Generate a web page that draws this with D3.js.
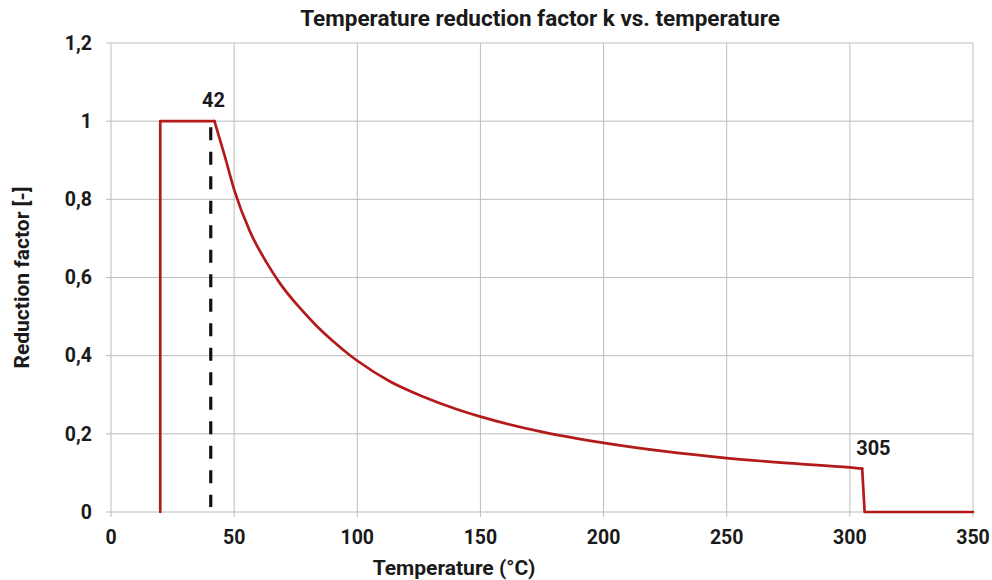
<!DOCTYPE html>
<html>
<head>
<meta charset="utf-8">
<script src="https://cdn.jsdelivr.net/npm/d3@7"></script>
<style>
  body { margin: 0; background: #fff; }
  text { font-family: Roboto, "Noto Sans", sans-serif; font-weight: bold; fill: #1a1a1a; }
  .grid line { stroke: #bdbdbd; stroke-width: 1; }
</style>
</head>
<body>
<script>
// reduction factor curve
var temps   = [20, 20, 42, 46, 50, 56.4, 63.2, 68.6, 76.7, 83.5, 90.3, 97, 100, 113.3, 126.8, 140.4, 150, 175, 200, 225, 250, 275, 300, 305, 306, 350];
var factors = [0, 1, 1, 0.915, 0.825, 0.718, 0.638, 0.585, 0.522, 0.476, 0.436, 0.401, 0.387, 0.334, 0.295, 0.263, 0.244, 0.205, 0.177, 0.155, 0.138, 0.125, 0.114, 0.111, 0, 0];

var xTicks = [0, 50, 100, 150, 200, 250, 300, 350];
var yTicks = [0, 0.2, 0.4, 0.6, 0.8, 1, 1.2];

var dashX = 40.5;          // dashed marker
var labels = [{t: 42, k: 1, text: "42"}, {t: 305, k: 0.111, text: "305"}];

var W = 992, H = 580;
var margin = {top: 43, right: 19, bottom: 68, left: 111},
    width = W - margin.left - margin.right,
    height = H - margin.top - margin.bottom;

var svg = d3.select("body").append("svg")
    .attr("width", W).attr("height", H)
  .append("g")
    .attr("transform", "translate(" + margin.left + "," + margin.top + ")");

var x = d3.scaleLinear().domain([0, 350]).range([0, width]);
var y = d3.scaleLinear().domain([0, 1.2]).range([height, 0]);

var fmt = function(d){ return String(d).replace(".", ","); };

// grid + axes
svg.append("g").attr("class", "grid")
  .selectAll("line").data(xTicks).enter().append("line")
  .attr("x1", function(d){ return x(d); }).attr("x2", function(d){ return x(d); })
  .attr("y1", 0).attr("y2", height + 5);

svg.append("g").attr("class", "grid")
  .selectAll("line").data(yTicks).enter().append("line")
  .attr("x1", -5).attr("x2", width)
  .attr("y1", function(d){ return y(d); }).attr("y2", function(d){ return y(d); });

svg.append("g").selectAll("text").data(xTicks).enter().append("text")
  .attr("x", function(d){ return x(d); })
  .attr("y", height + 32)
  .attr("text-anchor", "middle")
  .style("font-size", "19.5px")
  .text(function(d){ return d; });

svg.append("g").selectAll("text").data(yTicks).enter().append("text")
  .attr("x", -19)
  .attr("y", function(d){ return y(d); })
  .attr("dy", "0.35em")
  .attr("text-anchor", "end")
  .style("font-size", "19.5px")
  .text(fmt);

// dashed line at the plateau end
svg.append("line")
  .attr("x1", x(dashX)).attr("x2", x(dashX))
  .attr("y1", y(1) + 6).attr("y2", y(0) - 5)
  .attr("stroke", "#111").attr("stroke-width", 3.2)
  .attr("stroke-dasharray", "13,11.5");

// plateau and cut-off are straight, the decay is smooth
var pts = d3.zip(temps, factors);
var iStart = temps.indexOf(42), iEnd = temps.indexOf(305);
var pieces = [
  {d: pts.slice(0, iStart + 1), curve: d3.curveLinear},
  {d: pts.slice(iStart, iEnd + 1), curve: d3.curveMonotoneX},
  {d: pts.slice(iEnd), curve: d3.curveLinear}
];

svg.selectAll(".curve").data(pieces).enter().append("path")
  .attr("class", "curve")
  .attr("d", function(p){
    return d3.line().curve(p.curve)
      .x(function(d){ return x(d[0]); })
      .y(function(d){ return y(d[1]); })(p.d);
  })
  .attr("fill", "none")
  .attr("stroke", "#b31b1b")
  .attr("stroke-width", 2.7)
  .attr("stroke-linejoin", "round")
  .attr("stroke-linecap", "round");

svg.selectAll(".ann").data(labels).enter().append("text")
  .attr("class", "ann")
  .attr("x", function(d, i){ return i == 0 ? x(d.t) - 1 : x(d.t) - 6; })
  .attr("y", function(d){ return y(d.k) - 14; })
  .attr("text-anchor", function(d, i){ return i == 0 ? "middle" : "start"; })
  .style("font-size", "20px")
  .text(function(d){ return d.text; });

// titles
svg.append("text")
  .attr("x", width / 2 - 2).attr("y", -17)
  .attr("text-anchor", "middle")
  .style("font-size", "22.5px")
  .text("Temperature reduction factor k vs. temperature");

svg.append("text")
  .attr("x", 343).attr("y", height + 63)
  .attr("text-anchor", "middle")
  .style("font-size", "21px")
  .text("Temperature (°C)");

svg.append("text")
  .attr("transform", "translate(" + (-82) + "," + (height / 2) + ") rotate(-90)")
  .attr("text-anchor", "middle")
  .style("font-size", "21px")
  .text("Reduction factor [-]");
</script>
</body>
</html>
